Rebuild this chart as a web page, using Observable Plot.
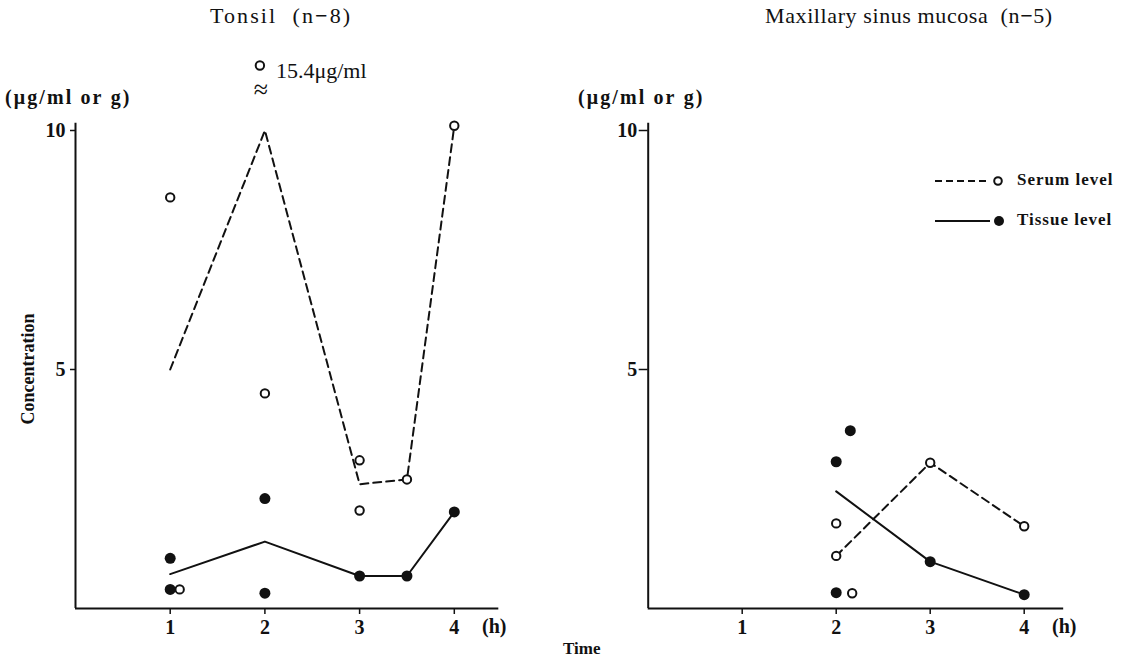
<!DOCTYPE html>
<html><head><meta charset="utf-8">
<script src="https://cdn.jsdelivr.net/npm/d3@7"></script>
<script src="https://cdn.jsdelivr.net/npm/@observablehq/plot@0.6"></script>
<style>
body{margin:0;background:#fff;width:1127px;height:663px;overflow:hidden;position:relative;font-family:"Liberation Serif",serif;color:#111}
.abs{position:absolute;white-space:nowrap;line-height:1}
#left,#right{position:absolute;top:0}
#left{left:0}#right{left:540px}
.b{font-weight:bold}
</style></head><body>
<div id="left"></div><div id="right"></div>
<div class="abs" style="left:210px;top:5px;font-size:22px;letter-spacing:2.1px">Tonsil&nbsp; (n<b>−</b>8)</div>
<div class="abs" style="left:765px;top:5px;font-size:22px;letter-spacing:0.6px">Maxillary&nbsp;sinus&nbsp;mucosa&nbsp; (n<b>−</b>5)</div>
<div class="abs b" style="left:5px;top:87px;font-size:20px;letter-spacing:2.1px">(μg/ml&nbsp;or&nbsp;g)</div>
<div class="abs b" style="left:578px;top:87px;font-size:20px;letter-spacing:2.1px">(μg/ml&nbsp;or&nbsp;g)</div>
<div class="abs b" style="left:28px;top:369px;font-size:18px;transform:translate(-50%,-50%) rotate(-90deg);transform-origin:center">Concentration</div>
<div class="abs b" style="left:563px;top:640px;font-size:17px">Time</div>
<div class="abs b" style="left:935px;top:171px;font-size:17px;letter-spacing:1px">
  <svg width="80" height="20" style="vertical-align:middle"><line x1="0" x2="55" y1="10" y2="10" stroke="#111" stroke-width="2" stroke-dasharray="7,4"/><circle cx="63" cy="10" r="3.8" fill="#fff" stroke="#111" stroke-width="2"/></svg><span style="position:relative;left:2px">Serum level</span>
</div>
<div class="abs b" style="left:935px;top:211px;font-size:17px;letter-spacing:1px">
  <svg width="80" height="20" style="vertical-align:middle"><line x1="0" x2="55" y1="10" y2="10" stroke="#111" stroke-width="2"/><circle cx="64" cy="10" r="5" fill="#111"/></svg><span style="position:relative;left:2px">Tissue level</span>
</div>
<script>
// ---- Tonsil (n=8) ----
const tonsilSerumT = [1, 1.1, 2, 3, 3, 3.5, 4];
const tonsilSerumV = [8.6, 0.4, 4.5, 3.1, 2.05, 2.7, 10.1];
const tonsilSerumLineT = [1, 2, 3, 3.5, 4];
const tonsilSerumLineV = [5.0, 10.0, 2.6, 2.7, 10.1];
const tonsilTissueT = [1, 1, 2, 2, 3, 3.5, 4];
const tonsilTissueV = [1.05, 0.4, 2.3, 0.32, 0.68, 0.68, 2.02];
const tonsilTissueLineT = [1, 2, 3, 3.5, 4];
const tonsilTissueLineV = [0.72, 1.4, 0.68, 0.68, 2.02];
const tonsilOffscaleT = [2];
const tonsilOffscaleV = [15.4];
// ---- Maxillary sinus mucosa (n=5) ----
const maxSerumT = [2, 2, 2.17, 3, 4];
const maxSerumV = [1.78, 1.1, 0.32, 3.05, 1.72];
const maxSerumLineT = [2, 3, 4];
const maxSerumLineV = [1.1, 3.05, 1.72];
const maxTissueT = [2, 2.15, 2, 3, 4];
const maxTissueV = [3.07, 3.72, 0.33, 0.98, 0.29];
const maxTissueLineT = [2, 3, 4];
const maxTissueLineV = [2.45, 0.98, 0.29];
// ---- ticks ----
const xTicks = [1, 2, 3, 4];
const yTicks = [5, 10];
const unitLabel = "(h)";

const zip = (T, V) => T.map((t, i) => ({t, v: V[i]}));
const INK = "#111";

function panel(o) {
  const marks = [
    Plot.ruleY([0], {x1: 0, x2: o.xmax, stroke: INK, strokeWidth: 2}),
    Plot.ruleX([0], {y1: 0, y2: 10.15, stroke: INK, strokeWidth: 2}),
    Plot.axisX(xTicks, {label: null, tickSize: 6, tickPadding: 5, stroke: INK, strokeWidth: 1.5, fill: INK, fontSize: 20}),
    Plot.axisY(yTicks, {label: null, tickSize: o.yTickSize, tickPadding: o.yTickPad, stroke: INK, strokeWidth: 1.5, fill: INK, fontSize: 20}),
    Plot.text([unitLabel], {x: () => 4, frameAnchor: "bottom", dx: 40, dy: 24, fill: INK, fontSize: 20}),
    Plot.line(zip(o.sLT, o.sLV), {x: "t", y: "v", stroke: INK, strokeWidth: 2, strokeDasharray: "8,5"}),
    Plot.line(zip(o.tLT, o.tLV), {x: "t", y: "v", stroke: INK, strokeWidth: 2}),
    Plot.dot(zip(o.tT, o.tV), {x: "t", y: "v", r: 5.5, fill: INK}),
    Plot.dot(zip(o.sT, o.sV), {x: "t", y: "v", r: 4.2, fill: "#fff", stroke: INK, strokeWidth: 2})
  ];
  if (o.offT) {
    const off = zip(o.offT, o.offV);
    marks.push(
      Plot.dot(off, {x: "t", frameAnchor: "top", dy: -65, dx: -5, r: 4.2, fill: "#fff", stroke: INK, strokeWidth: 2}),
      Plot.text(off, {x: "t", text: d => `${d.v}μg/ml`, frameAnchor: "top", dy: -68, dx: 11, textAnchor: "start", fill: INK, fontSize: 22, fontWeight: "normal", style: "letter-spacing:2px"}),
      Plot.text(off, {x: "t", text: () => "≈", frameAnchor: "top", dy: -51, dx: -4, fill: INK, fontSize: 26, fontWeight: "normal"})
    );
  }
  return Plot.plot({
    width: o.width, height: 663,
    marginLeft: o.marginLeft, marginRight: o.marginRight, marginTop: 130, marginBottom: 55,
    x: {domain: [0, o.xmax]},
    y: {domain: [0, 10]},
    style: {fontFamily: "Liberation Serif, serif", fontSize: "20px", fontWeight: "bold", background: "transparent", overflow: "visible"},
    marks
  });
}

document.getElementById("left").append(panel({
  width: 540, marginLeft: 75, marginRight: 540 - 75 - 4.47 * 94.7, xmax: 4.47, yTickSize: 5, yTickPad: 5,
  sT: tonsilSerumT, sV: tonsilSerumV, sLT: tonsilSerumLineT, sLV: tonsilSerumLineV,
  tT: tonsilTissueT, tV: tonsilTissueV, tLT: tonsilTissueLineT, tLV: tonsilTissueLineV,
  offT: tonsilOffscaleT, offV: tonsilOffscaleV
}));
document.getElementById("right").append(panel({
  width: 587, marginLeft: 107.7, marginRight: 587 - 107.7 - 4.42 * 94, xmax: 4.42, yTickSize: 9, yTickPad: 2,
  sT: maxSerumT, sV: maxSerumV, sLT: maxSerumLineT, sLV: maxSerumLineV,
  tT: maxTissueT, tV: maxTissueV, tLT: maxTissueLineT, tLV: maxTissueLineV
}));
</script>
</body></html>
